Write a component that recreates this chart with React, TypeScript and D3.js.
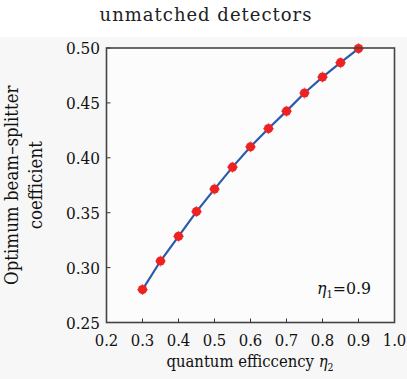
import React from "react";
import * as d3 from "d3";

const etaValues = [0.3, 0.35, 0.4, 0.45, 0.5, 0.55, 0.6, 0.65, 0.7, 0.75, 0.8, 0.85, 0.9];
const coeffValues = [0.280, 0.306, 0.3285, 0.351, 0.3715, 0.3915, 0.410, 0.4266, 0.4425, 0.459, 0.4735, 0.4866, 0.4995];
const xTicks = [0.2, 0.3, 0.4, 0.5, 0.6, 0.7, 0.8, 0.9, 1.0];
const yTicks = [0.25, 0.3, 0.35, 0.4, 0.45, 0.5];

const W = 407, H = 379;
const L = 106.5, R = 394.5, T = 48, B = 322.5;
const FONT = "DejaVu Serif, serif";

export default function App() {
  const x = d3.scaleLinear().domain([0.2, 1.0]).range([L, R]);
  const y = d3.scaleLinear().domain([0.25, 0.5]).range([B, T]);
  const pts = etaValues.map((e, i) => [e, coeffValues[i]] as [number, number]);
  const line = d3.line<[number, number]>().x(d => x(d[0])).y(d => y(d[1]));
  const cy = (T + B) / 2;
  return (
    <svg width={W} height={H} style={{ position: "absolute", left: 0, top: 0 }}>
      <rect x={0} y={0} width={W} height={H} fill="#ffffff" />
      <rect x={0} y={37} width={W} height={H - 37} fill="#f7f7f7" />
      <rect x={L} y={T} width={R - L} height={B - T} fill="#fcfcfc" />
      <text x={206} y={21} textAnchor="middle" fontFamily={FONT} fontSize={18} letterSpacing={1.0} fill="#222">unmatched detectors</text>
      {xTicks.map(t => (
        <g key={"x" + t}>
          <line x1={x(t)} x2={x(t)} y1={B} y2={B - 4} stroke="#333" strokeWidth={1} />
          <text x={x(t)} y={345.5} textAnchor="middle" fontFamily={FONT} fontStretch="condensed" fontSize={16.5} fill="#111">{t.toFixed(1)}</text>
        </g>
      ))}
      {yTicks.map(t => (
        <g key={"y" + t}>
          <line x1={L} x2={L + 4} y1={y(t)} y2={y(t)} stroke="#333" strokeWidth={1} />
          <text x={100} y={y(t) + 6} textAnchor="end" fontFamily={FONT} fontStretch="condensed" fontSize={17} fill="#111">{t.toFixed(2)}</text>
        </g>
      ))}
      <path d={line(pts) || ""} fill="none" stroke="#2b5bab" strokeWidth={2.2} />
      {pts.map((p, i) => (
        <g key={"p" + i}>
          <circle cx={x(p[0])} cy={y(p[1])} r={4.6} fill="#ee2222" />
          <path d={`M${x(p[0]) - 5.5},${y(p[1])}h11M${x(p[0])},${y(p[1]) - 5.5}v11`} stroke="#ee2222" strokeWidth={1.2} opacity={0.6} />
        </g>
      ))}
      <rect x={L} y={T} width={R - L} height={B - T} fill="none" stroke="#444" strokeWidth={1.6} />
      <text x={317} y={294} fontFamily={FONT} fontStretch="condensed" fontSize={17.5} fill="#111">
        <tspan fontStyle="italic">η</tspan><tspan fontSize={11} dy={4}>1</tspan><tspan dy={-4}>=0.9</tspan>
      </text>
      <text x={250} y={367} textAnchor="middle" fontFamily={FONT} fontStretch="condensed" fontSize={16.5} fill="#111">
        quantum efficcency <tspan fontStyle="italic">η</tspan><tspan fontSize={10.5} dy={4}>2</tspan>
      </text>
      <text transform={`translate(18,${cy}) rotate(-90)`} textAnchor="middle" fontFamily={FONT} fontStretch="condensed" fontSize={18.5} fill="#111">Optimum beam–splitter</text>
      <text transform={`translate(42,${cy}) rotate(-90)`} textAnchor="middle" fontFamily={FONT} fontStretch="condensed" fontSize={18.5} fill="#111">coefficient</text>
    </svg>
  );
}
